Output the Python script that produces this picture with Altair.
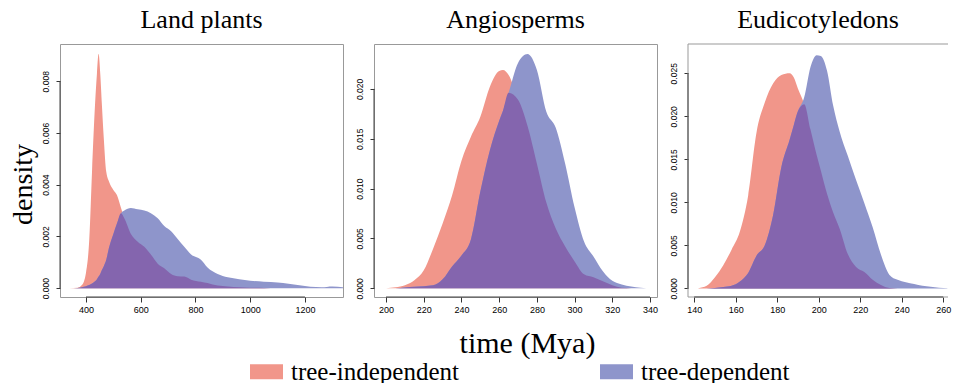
import altair as alt
import numpy as np
import pandas as pd

SERIES = ["tree-independent", "tree-dependent"]
RED = "#F1968A"
BLUE = "#8E95CB"
PURPLE = "#8465AE"

TITLES = ["Land plants", "Angiosperms", "Eudicotyledons"]

# ---- Land plants ----
LP_X = [340, 370, 385, 400, 412, 422, 433, 440, 446, 452, 458, 465, 474, 485, 500, 513, 528,
        540, 564, 589, 613, 637, 662, 686, 711, 735, 759, 784, 820, 844, 881, 918, 960, 1000,
        1050, 1100, 1140, 1180, 1220, 1260, 1300, 1340]
LP_RED = [0, 0.00002, 0.00012, 0.0006, 0.0019, 0.0045, 0.0071, 0.0083, 0.00906, 0.0083, 0.0071,
          0.0058, 0.0045, 0.0041, 0.0038, 0.0036, 0.0031, 0.0027, 0.0021, 0.0018, 0.0016, 0.0013,
          0.00095, 0.00077, 0.00055, 0.00046, 0.00045, 0.00033, 0.00025, 0.0002, 0.0001, 0.00007,
          0.00004, 0.00002, 0.00001, 0, 0, 0, 0, 0, 0, 0]
LP_BLUE = [0, 0.00001, 0.00004, 0.00008, 0.00012, 0.00018, 0.00027, 0.00035, 0.00045, 0.00055,
           0.0007, 0.00085, 0.0011, 0.0016, 0.0021, 0.0025, 0.0029, 0.0030, 0.0031, 0.00305,
           0.003, 0.0029, 0.0027, 0.0024, 0.0022, 0.0019, 0.0016, 0.0013, 0.0011, 0.0008,
           0.00055, 0.00042, 0.00035, 0.00029, 0.00025, 0.00022, 0.00017, 0.00011, 0.00006,
           0.00004, 0.00007, 0.00004]
LP_XDOM = [305, 1339]
LP_YDOM = [-0.00034, 0.00944]
LP_XTICKS = [400, 600, 800, 1000, 1200]
LP_YTICKS = [0.000, 0.002, 0.004, 0.006, 0.008]

# ---- Angiosperms ----
AN_X = [200, 205, 210, 215, 220, 225, 230, 235, 240, 245, 250, 255, 260, 262, 265, 270, 275,
        280, 285, 290, 295, 300, 305, 310, 315, 320, 325, 330, 335, 338]
AN_RED = [0, 0.0001, 0.0003, 0.0008, 0.0018, 0.004, 0.0065, 0.0093, 0.0128, 0.0152, 0.0172,
          0.0202, 0.0218, 0.0219, 0.0214, 0.0189, 0.0163, 0.0125, 0.0086, 0.006, 0.0042, 0.0027,
          0.0014, 0.0011, 0.0007, 0.0003, 0.00005, 0, 0, 0]
AN_BLUE = [0, 0, 0.00008, 0.00015, 0.00022, 0.0003, 0.0009, 0.0022, 0.0033, 0.0049, 0.0097,
           0.0138, 0.0168, 0.0178, 0.0196, 0.0226, 0.0235, 0.0219, 0.0177, 0.0161, 0.0125,
           0.0081, 0.0047, 0.0032, 0.0017, 0.00075, 0.00038, 0.00018, 0.00005, 0]
AN_XDOM = [193.6, 343.7]
AN_YDOM = [-0.00087, 0.0245]
AN_XTICKS = [200, 220, 240, 260, 280, 300, 320, 340]
AN_YTICKS = [0.000, 0.005, 0.010, 0.015, 0.020]

# ---- Eudicotyledons (right edge of this panel is cut off in the original) ----
EU_X = [142, 146, 150, 154, 158, 162, 166, 170, 174, 178, 182, 186, 188, 190, 193, 196, 199,
        201, 204, 207, 210, 214, 218, 222, 226, 230, 234, 238, 242, 246, 250, 254, 258, 262]
EU_RED = [0.00003, 0.0003, 0.0013, 0.0027, 0.0045, 0.0066, 0.0108, 0.0181, 0.0216, 0.0238,
          0.0248, 0.025, 0.0245, 0.0232, 0.0214, 0.0185, 0.0155, 0.0137, 0.011, 0.0088, 0.007,
          0.004, 0.0025, 0.0019, 0.001, 0.0004, 0.00005, 0, 0, 0, 0, 0, 0, 0]
EU_BLUE = [0, 0, 0.00005, 0.00015, 0.0003, 0.0008, 0.0018, 0.0038, 0.005, 0.0085, 0.0141,
           0.0173, 0.019, 0.0206, 0.0222, 0.0257, 0.0271, 0.027, 0.0253, 0.0212, 0.0183, 0.0154,
           0.0126, 0.0099, 0.0071, 0.0039, 0.0016, 0.001, 0.0007, 0.0005, 0.0003, 0.00018,
           0.00008, 0.00002]
EU_XDOM = [137, 262.3]
EU_YDOM = [-0.001, 0.0284]
EU_XTICKS = [140, 160, 180, 200, 220, 240, 260]
EU_YTICKS = [0.000, 0.005, 0.010, 0.015, 0.020, 0.025]

SERIF = "Liberation Serif"
SANS = "Liberation Sans"
PH = 253
WIDTHS = [283, 283, 260]
BOX = "#999"


def panel(title, xs, red, blue, xdom, ydom, xticks, yticks, pw, xtitle="", ytitle="",
          open_right=False):
    red_df = pd.DataFrame({"x": xs, "y": red, "series": SERIES[0]})
    blue_df = pd.DataFrame({"x": xs, "y": blue, "series": SERIES[1]})
    ov_df = pd.DataFrame({"x": xs, "y": np.minimum(np.array(red), np.array(blue))})
    dom_x = pd.DataFrame({"x": [xticks[0]], "x2": [xticks[-1]], "y": [ydom[0]]})
    dom_y = pd.DataFrame({"y": [yticks[0]], "y2": [yticks[-1]], "x": [xdom[0]]})

    xscale = alt.Scale(domain=xdom, nice=False, zero=False)
    yscale = alt.Scale(domain=ydom, nice=False, zero=False)
    xaxis = alt.Axis(values=xticks, format="d", labelFont=SANS, labelFontSize=9,
                     labelColor="black", tickSize=5, tickColor="#333", labelPadding=3,
                     domain=False, grid=False, labelFlush=False,
                     title=xtitle, titleFont=SERIF, titleFontSize=30,
                     titleFontWeight="normal", titleColor="black",
                     titleX=153, titleY=46, titleAlign="center", titleBaseline="middle")
    yaxis = alt.Axis(values=yticks, format=".3f", labelFont=SANS, labelFontSize=8.5,
                     labelColor="black", labelAngle=270, labelAlign="center",
                     labelBaseline="bottom", tickSize=4, tickColor="#333", labelPadding=6,
                     domain=False, grid=False, labelFlush=False,
                     title=ytitle, titleFont=SERIF, titleFontSize=28,
                     titleFontWeight="normal", titleColor="black", titleAngle=270,
                     titleX=-37, titleY=140, titleAlign="center", titleBaseline="middle")
    color = alt.Color("series:N", scale=alt.Scale(domain=SERIES, range=[RED, BLUE]),
                      legend=alt.Legend(orient="none", legendX=190, legendY=311,
                                        direction="horizontal", title=None,
                                        symbolType="M-1,-0.45L1,-0.45L1,0.45L-1,0.45Z",
                                        symbolSize=1089, symbolStrokeWidth=0,
                                        symbolOpacity=1, labelFont=SERIF, labelFontSize=25,
                                        labelColor="black", labelOffset=8,
                                        columnPadding=141, labelLimit=400))

    X = lambda f: alt.X(f, scale=xscale, axis=xaxis)
    Y = lambda f: alt.Y(f, scale=yscale, axis=yaxis, stack=None)

    layers = []
    if open_right:
        frame_h = pd.DataFrame({"x": [xdom[0], xdom[0]], "x2": [xdom[1], xdom[1]],
                                "y": [ydom[0], ydom[1]]})
        frame_v = pd.DataFrame({"y": [ydom[0]], "y2": [ydom[1]], "x": [xdom[0]]})
        layers.append(alt.Chart(frame_h).mark_rule(color=BOX, strokeWidth=1).encode(
            x=X("x:Q"), x2="x2:Q", y=Y("y:Q")))
        layers.append(alt.Chart(frame_v).mark_rule(color=BOX, strokeWidth=1).encode(
            y=Y("y:Q"), y2="y2:Q", x=X("x:Q")))

    red_l = alt.Chart(red_df).mark_area(interpolate="monotone", clip=True, opacity=1).encode(
        x=X("x:Q"), y=Y("y:Q"), color=color)
    blue_l = alt.Chart(blue_df).mark_area(interpolate="monotone", clip=True, opacity=1).encode(
        x=X("x:Q"), y=Y("y:Q"), color=color)
    ov_l = alt.Chart(ov_df).mark_area(interpolate="monotone", clip=True, opacity=1,
                                      color=PURPLE).encode(x=X("x:Q"), y=Y("y:Q"))
    rx = alt.Chart(dom_x).mark_rule(color="#444", strokeWidth=1).encode(
        x=X("x:Q"), x2="x2:Q", y=Y("y:Q"))
    ry = alt.Chart(dom_y).mark_rule(color="#444", strokeWidth=1).encode(
        y=Y("y:Q"), y2="y2:Q", x=X("x:Q"))
    layers += [red_l, blue_l, ov_l, rx, ry]
    props = dict(width=pw, height=PH,
                 title=alt.Title(title, font=SERIF, fontSize=26, fontWeight="normal",
                                 color="black", anchor="middle", baseline="alphabetic",
                                 offset=-10, frame="group"))
    if open_right:
        props["view"] = alt.ViewBackground(stroke="transparent")
    else:
        props["view"] = alt.ViewBackground(stroke=BOX, strokeWidth=1)
    return alt.layer(*layers).properties(**props)


p1 = panel(TITLES[0], LP_X, LP_RED, LP_BLUE, LP_XDOM, LP_YDOM, LP_XTICKS, LP_YTICKS,
           WIDTHS[0], ytitle="density")
p2 = panel(TITLES[1], AN_X, AN_RED, AN_BLUE, AN_XDOM, AN_YDOM, AN_XTICKS, AN_YTICKS,
           WIDTHS[1], xtitle="time (Mya)")
p3 = panel(TITLES[2], EU_X, EU_RED, EU_BLUE, EU_XDOM, EU_YDOM, EU_XTICKS, EU_YTICKS,
           WIDTHS[2], open_right=True)

chart = alt.hconcat(p1, p2, p3, spacing=31, bounds="flush").resolve_scale(
    x="independent", y="independent", color="shared"
).properties(
    padding={"left": 0, "top": -2, "right": 0, "bottom": 0}, background="white")

chart.save("out.html", embed_options={"renderer": "svg", "actions": False})
